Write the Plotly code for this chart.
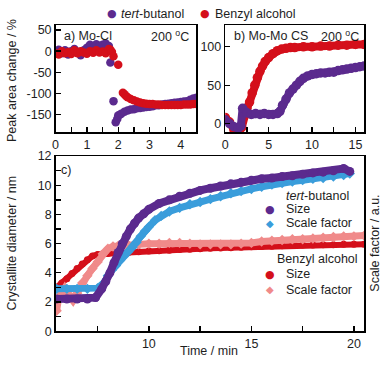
import plotly.graph_objects as go

# colours of the four data sets
purple = "#5b2a8e"
red = "#d40f1a"
blue = "#3a9ddb"
pink = "#f08a8a"

# a) Mo-Cl peak area change (%) vs time (min)
a_tbu_t = [0, 0.1, 0.2, 0.3, 0.4, 0.5, 0.6, 0.7, 0.8, 0.9, 1.0, 1.1, 1.2, 1.3, 1.4, 1.5, 1.6, 1.7,
           1.75, 1.85, 1.92, 1.97, 2.0, 2.05, 2.1, 2.2, 2.3, 2.4, 2.5, 2.6, 2.7, 2.8, 2.9, 3.0, 3.1,
           3.2, 3.3, 3.4, 3.5, 3.6, 3.7, 3.8, 3.9, 4.0, 4.1, 4.2, 4.3, 4.4, 4.5]
a_tbu_v = [0, 3, -5, 2, -8, 0, 5, -3, -10, 2, 8, 15, 10, 16, 12, 15, 18, 12,
           -27, -118, -168, -160, -152, -150, -148, -143, -140, -138, -137, -135, -134, -133, -132, -131, -130,
           -128, -128, -126, -125, -124, -123, -122, -121, -120, -119, -118, -115, -112, -110]
a_bza_t = [0, 0.1, 0.2, 0.3, 0.4, 0.5, 0.6, 0.7, 0.8, 0.9, 1.0, 1.1, 1.2, 1.3, 1.4, 1.5, 1.6, 1.7,
           1.75, 1.8, 1.85, 2.0, 2.15, 2.2, 2.25, 2.3, 2.4, 2.5, 2.6, 2.7, 2.8, 2.9, 3.0, 3.1, 3.2,
           3.3, 3.4, 3.5, 3.6, 3.7, 3.8, 3.9, 4.0, 4.1, 4.2, 4.3, 4.4, 4.5]
a_bza_v = [-5, -8, 0, -5, -2, -7, 2, -5, 0, -3, -6, 0, -4, 2, -3, -1, -5, 5,
           3, -2, -12, -32, -98, -102, -106, -109, -113, -116, -119, -121, -123, -124, -125, -125, -126,
           -126, -127, -127, -127, -127, -127, -127, -127, -126, -126, -126, -125, -125]

# b) Mo-Mo CS peak area change (%) vs time (min)
b_tbu_t = [0, 0.5, 1.0, 1.5, 1.8, 2.0, 2.5, 3.0, 3.5, 4.0, 4.5, 5.0, 5.5, 6.0, 6.3, 6.6, 7.0, 7.4,
           7.8, 8.2, 8.6, 9.0, 9.5, 10.0, 10.5, 11.0, 11.5, 12.0, 12.5, 13.0, 13.5, 14.0, 14.5, 15.0, 15.5, 16.0]
b_tbu_v = [5, 0, -4, -6, -3, 20, 14, 12, 13, 12, 13, 12, 12, 13, 16, 24, 32, 40,
           45, 50, 55, 59, 62, 64, 65, 66, 66, 67, 67, 69, 70, 71, 72, 73, 74, 75]
b_bza_t = [0, 0.5, 1.0, 1.5, 1.9, 2.2, 2.5, 2.8, 3.1, 3.4, 3.7, 4.0, 4.3, 4.6, 5.0, 5.5, 6.0, 6.5,
           7.0, 7.5, 8.0, 9.0, 10.0, 11.0, 12.0, 13.0, 14.0, 15.0, 16.0]
b_bza_v = [8, 2, -8, -12, -5, 10, 20, 28, 40, 50, 60, 68, 75, 81, 86, 91, 95, 97,
           98, 99, 99, 100, 100, 101, 101, 102, 102, 103, 103]

# c) crystallite size (nm) and scale factor vs time (min)
c_tbu_size_t = [5.5, 6.0, 6.5, 7.0, 7.4, 7.7, 7.9, 8.1, 8.3, 8.5, 8.7, 8.9, 9.1, 9.3, 9.5, 9.75, 10.0,
                10.5, 11.0, 11.5, 12.0, 12.5, 13.0, 13.5, 14.0, 14.5, 15.0, 15.5, 16.0, 16.5, 17.0,
                17.5, 18.0, 18.5, 19.0, 19.5, 19.8]
c_tbu_size_v = [2.2, 2.2, 2.2, 2.2, 2.3, 2.9, 3.4, 4.0, 4.7, 5.4, 6.0, 6.5, 7.0, 7.4, 7.75, 8.05, 8.35,
                8.75, 9.0, 9.25, 9.45, 9.65, 9.8, 9.95, 10.1, 10.2, 10.35, 10.45, 10.5, 10.6, 10.65,
                10.75, 10.85, 10.9, 11.0, 11.15, 10.95]
c_tbu_sf_t = [5.5, 6.0, 6.5, 7.0, 7.5, 7.8, 8.0, 8.2, 8.4, 8.6, 8.8, 9.0, 9.2, 9.4, 9.6, 9.8, 10.0,
              10.3, 10.6, 11.0, 11.5, 12.0, 12.5, 13.0, 13.5, 14.0, 14.5, 15.0, 15.5, 16.0, 16.5,
              17.0, 17.5, 18.0, 18.5, 19.0, 19.5, 19.8]
c_tbu_sf_v = [2.9, 2.9, 2.9, 2.9, 2.95, 3.3, 3.8, 4.2, 4.5, 4.85, 5.15, 5.45, 5.75, 6.1, 6.5, 6.85, 7.15,
              7.6, 7.9, 8.2, 8.45, 8.7, 8.85, 9.05, 9.25, 9.45, 9.6, 9.75, 9.9, 10.05, 10.15,
              10.25, 10.35, 10.45, 10.5, 10.6, 10.7, 10.8]
c_bza_size_t = [5.5, 5.75, 6.0, 6.25, 6.5, 6.75, 7.0, 7.25, 7.5, 7.75, 8.0, 8.5, 9.0, 9.5, 10.0, 10.5,
                11.0, 11.5, 12.0, 12.5, 13.0, 13.5, 14.0, 14.5, 15.0, 15.5, 16.0, 16.5, 17.0, 17.5,
                18.0, 18.5, 19.0, 19.5, 20.0, 20.5]
c_bza_size_v = [3.0, 3.3, 3.6, 3.95, 4.3, 4.6, 4.9, 5.15, 5.25, 5.3, 5.32, 5.35, 5.4, 5.45, 5.5, 5.52,
                5.55, 5.6, 5.62, 5.65, 5.68, 5.7, 5.72, 5.75, 5.78, 5.8, 5.82, 5.85, 5.87, 5.9,
                5.9, 5.92, 5.93, 5.95, 5.95, 5.95]
c_bza_sf_t = [5.5, 5.6, 5.75, 5.9, 6.1, 6.3, 6.5, 6.75, 7.0, 7.25, 7.5, 7.75, 8.0, 8.25, 8.5, 9.0, 9.5,
              10.0, 10.5, 11.0, 11.5, 12.0, 12.5, 13.0, 13.5, 14.0, 14.5, 15.0, 15.5, 16.0, 16.5,
              17.0, 17.5, 18.0, 18.5, 19.0, 19.5, 20.0, 20.5]
c_bza_sf_v = [1.4, 2.3, 2.6, 2.95, 2.5, 2.1, 2.6, 3.3, 3.8, 4.3, 4.75, 5.3, 5.65, 5.8, 5.85, 5.9, 5.95,
              6.0, 6.0, 6.05, 6.05, 6.0, 5.95, 5.95, 5.95, 5.95, 6.0, 6.05, 6.15, 6.2, 6.25,
              6.3, 6.3, 6.35, 6.4, 6.45, 6.5, 6.5, 6.55]

W, H = 383, 368
FONT = "Liberation Sans, Arial, DejaVu Sans"
INK = "#1e1e1e"


def fx(p):
    return p / W


def fy(p):
    return 1 - p / H


fig = go.Figure()

# panel a: plain dots
fig.add_trace(go.Scatter(x=a_tbu_t, y=a_tbu_v, mode="markers", xaxis="x", yaxis="y",
                         marker=dict(color=purple, size=8.5), showlegend=False))
fig.add_trace(go.Scatter(x=a_bza_t, y=a_bza_v, mode="markers", xaxis="x", yaxis="y",
                         marker=dict(color=red, size=8.5), showlegend=False))

# panel b: dense dots -> thick band
fig.add_trace(go.Scatter(x=b_bza_t, y=b_bza_v, mode="lines+markers", xaxis="x2", yaxis="y2",
                         line=dict(color=red, width=8), marker=dict(color=red, size=9.5), showlegend=False))
fig.add_trace(go.Scatter(x=b_tbu_t, y=b_tbu_v, mode="lines+markers", xaxis="x2", yaxis="y2",
                         line=dict(color=purple, width=8), marker=dict(color=purple, size=9.5), showlegend=False))

# panel c
fig.add_trace(go.Scatter(x=c_bza_size_t, y=c_bza_size_v, mode="lines+markers", xaxis="x3", yaxis="y3",
                         line=dict(color=red, width=6), marker=dict(color=red, size=7), showlegend=False))
fig.add_trace(go.Scatter(x=c_bza_sf_t, y=c_bza_sf_v, mode="lines+markers", xaxis="x3", yaxis="y3",
                         line=dict(color=pink, width=7), marker=dict(color=pink, size=8, symbol="diamond"),
                         showlegend=False))
fig.add_trace(go.Scatter(x=c_tbu_sf_t, y=c_tbu_sf_v, mode="lines+markers", xaxis="x3", yaxis="y3",
                         line=dict(color=blue, width=7), marker=dict(color=blue, size=8, symbol="diamond"),
                         showlegend=False))
fig.add_trace(go.Scatter(x=c_tbu_size_t, y=c_tbu_size_v, mode="lines+markers", xaxis="x3", yaxis="y3",
                         line=dict(color=purple, width=8), marker=dict(color=purple, size=9), showlegend=False))

axis_style = dict(showline=True, linecolor="black", linewidth=1.5, mirror=True, ticks="inside",
                  ticklen=5, tickwidth=1.3, tickcolor="black", showgrid=False, zeroline=False,
                  tickfont=dict(family=FONT, size=12.5, color=INK))

fig.update_layout(
    width=W, height=H, margin=dict(l=0, r=0, t=0, b=0),
    plot_bgcolor="white", paper_bgcolor="white", showlegend=False,
    xaxis=dict(domain=[fx(53), fx(195)], anchor="y", range=[0, 4.5], dtick=1,
               minor=dict(dtick=0.5, ticks="inside", ticklen=5, tickcolor="black"), **axis_style),
    yaxis=dict(domain=[fy(130), fy(19)], anchor="x", range=[-191, 61],
               tickvals=[-150, -100, -50, 0, 50], ticktext=["-150", "-100", "-50", "0", "50"], **axis_style),
    xaxis2=dict(domain=[fx(224), fx(364)], anchor="y2", range=[0, 16], dtick=5,
                minor=dict(dtick=2.5, ticks="inside", ticklen=5, tickcolor="black"), **axis_style),
    yaxis2=dict(domain=[fy(130), fy(19)], anchor="x2", range=[-11, 128], dtick=50, **axis_style),
    xaxis3=dict(domain=[fx(53), fx(364)], anchor="y3", range=[5.45, 20.5], dtick=5,
                minor=dict(dtick=2.5, ticks="inside", ticklen=5, tickcolor="black"), **axis_style),
    yaxis3=dict(domain=[fy(337), fy(155)], anchor="x3", range=[0, 12], dtick=2,
                minor=dict(dtick=1, ticks="inside", ticklen=5, tickcolor="black"), **axis_style),
    yaxis4=dict(overlaying="y3", anchor="x3", side="right", range=[-0.62, 6.72], dtick=1,
                ticks="inside", ticklen=5, tickwidth=1.3, tickcolor="black", showticklabels=False,
                showgrid=False, zeroline=False, showline=False),
)

txt = dict(family=FONT, size=12.5, color=INK)
dot = dict(family="DejaVu Sans", size=11)
notes = [
    # panel labels
    dict(x=fx(59), y=fy(30), text="a) Mo-Cl", xanchor="left"),
    dict(x=fx(189), y=fy(30), text="200 <sup>o</sup>C", xanchor="right"),
    dict(x=fx(231), y=fy(30), text="b) Mo-Mo CS", xanchor="left"),
    dict(x=fx(361), y=fy(30), text="200 <sup>o</sup>C", xanchor="right"),
    dict(x=fx(56), y=fy(169), text="c)", xanchor="left"),
    # axis titles
    dict(x=fx(9), y=fy(76), text="Peak area change / %", textangle=-90),
    dict(x=fx(9), y=fy(245), text="Crystallite diameter / nm", textangle=-90),
    dict(x=fx(375), y=fy(246), text="Scale factor / a.u.", textangle=-90),
    dict(x=fx(208), y=fy(358), text="Time / min"),
    # top legend
    dict(x=fx(110), y=fy(7), text="●", font=dict(dot, color=purple)),
    dict(x=fx(117), y=fy(7), text="<i>tert</i>-butanol", xanchor="left"),
    dict(x=fx(204), y=fy(7), text="●", font=dict(dot, color=red)),
    dict(x=fx(212), y=fy(7), text="Benzyl alcohol", xanchor="left"),
    # panel c legend
    dict(x=fx(283), y=fy(196), text="<i>tert</i>-butanol", xanchor="left"),
    dict(x=fx(269), y=fy(210), text="●", font=dict(dot, color=purple)),
    dict(x=fx(283), y=fy(210), text="Size", xanchor="left"),
    dict(x=fx(269), y=fy(225), text="◆", font=dict(family="DejaVu Sans", size=10, color=blue)),
    dict(x=fx(283), y=fy(225), text="Scale factor", xanchor="left"),
    dict(x=fx(274), y=fy(262), text="Benzyl alcohol", xanchor="left"),
    dict(x=fx(269), y=fy(278), text="●", font=dict(dot, color=red)),
    dict(x=fx(283), y=fy(278), text="Size", xanchor="left"),
    dict(x=fx(269), y=fy(294), text="◆", font=dict(family="DejaVu Sans", size=10, color=pink)),
    dict(x=fx(283), y=fy(294), text="Scale factor", xanchor="left"),
]
for n in notes:
    n.setdefault("font", txt)
    n.setdefault("xanchor", "center")
    fig.add_annotation(xref="paper", yref="paper", yanchor="middle", showarrow=False, **n)

# the page body has a default 8px margin; drop it so the figure fills the window
fig.write_html("out.html", config={"displayModeBar": False, "staticPlot": True},
               post_script="document.body.style.margin='0px';")
